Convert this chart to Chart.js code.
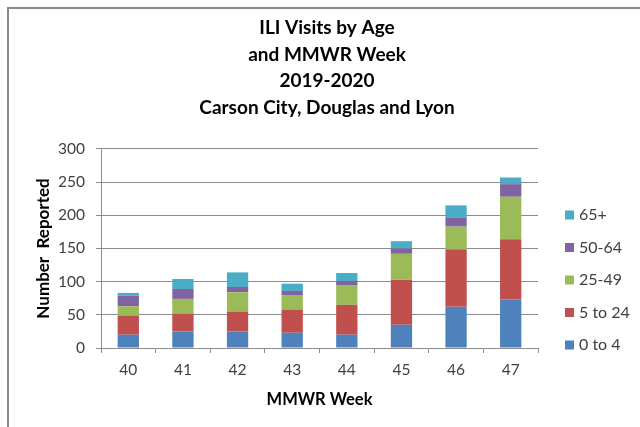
<!DOCTYPE html>
<html lang="en">

<head>
    <meta charset="UTF-8" />
    <title>ILI Visits by Age and MMWR Week</title>
    <script src="https://cdn.jsdelivr.net/npm/chart.js"></script>
    <style>
        html, body { margin: 0; padding: 0; background: #fff; }
        #chart { display: block; }
    </style>
</head>

<body>
    <canvas id="chart" width="640" height="427"></canvas>

    <script>
        // MMWR weeks and visit counts per age group
        const weeks = ['40', '41', '42', '43', '44', '45', '46', '47'];
        const age0to4 = [20, 25, 25, 23, 20, 35, 62, 73];
        const age5to24 = [29, 27, 30, 35, 45, 68, 87, 91];
        const age25to49 = [14, 22, 29, 21, 30, 39, 34, 64];
        const age50to64 = [16, 15, 8, 7, 6, 8, 14, 19];
        const age65plus = [4, 15, 22, 11, 12, 11, 18, 10];

        const FONT = 'Lato, "Open Sans", sans-serif';
        const GRID = '#8c8c8c';
        const TEXT = '#404040';

        // frame lines at the left and top edge, like the Excel chart border
        const framePlugin = {
            id: 'frame',
            beforeDraw(chart) {
                const ctx = chart.ctx;
                ctx.save();
                ctx.fillStyle = '#8a8a8a';
                ctx.fillRect(7, 7, 2, 420);
                ctx.fillRect(7, 7, 633, 2);
                ctx.restore();
            }
        };

        // legend on the right, top item is the last series
        const sideLegend = {
            id: 'sideLegend',
            afterDraw(chart) {
                const ctx = chart.ctx;
                const sets = chart.data.datasets;
                ctx.save();
                ctx.font = '16px ' + FONT;
                ctx.textBaseline = 'middle';
                ctx.textAlign = 'left';
                for (let i = 0; i < sets.length; i++) {
                    const y = 345 - i * 32.5;
                    ctx.fillStyle = sets[i].backgroundColor;
                    ctx.fillRect(565, y - 4.5, 9, 9);
                    ctx.fillStyle = TEXT;
                    ctx.fillText(sets[i].label, 579, y);
                }
                ctx.restore();
            }
        };

        const ctx = document.getElementById('chart').getContext('2d');
        const chart = new Chart(ctx, {
            type: 'bar',
            data: {
                labels: weeks,
                datasets: [
                    { label: '0 to 4', data: age0to4, backgroundColor: '#4f81bd' },
                    { label: '5 to 24', data: age5to24, backgroundColor: '#c0504d' },
                    { label: '25-49', data: age25to49, backgroundColor: '#9bbb59' },
                    { label: '50-64', data: age50to64, backgroundColor: '#8064a2' },
                    { label: '65+', data: age65plus, backgroundColor: '#4bacc6' }
                ]
            },
            options: {
                responsive: false,
                animation: false,
                layout: { padding: { left: 14, right: 0, top: 0, bottom: 0 } },
                datasets: {
                    bar: { categoryPercentage: 1, barPercentage: 0.39 }
                },
                scales: {
                    x: {
                        stacked: true,
                        grid: { drawOnChartArea: false, color: GRID, tickLength: 5 },
                        border: { color: GRID },
                        ticks: { color: TEXT, font: { family: FONT, size: 15.5 }, padding: 8 },
                        title: {
                            display: true, text: 'MMWR Week', color: '#000',
                            font: { family: FONT, size: 16.5, weight: 'bold' },
                            padding: { top: 0, bottom: 17 }
                        },
                        afterFit(s) { s.height = 79; }
                    },
                    y: {
                        stacked: true,
                        min: 0, max: 300,
                        grid: { color: GRID, tickLength: 5 },
                        border: { color: GRID },
                        ticks: { stepSize: 50, color: TEXT, font: { family: FONT, size: 15.5 }, padding: 11 },
                        title: {
                            display: true, text: 'Number  Reported', color: '#000',
                            font: { family: FONT, size: 17, weight: 'bold' },
                            padding: { top: 19, bottom: 0 }
                        },
                        afterFit(s) { s.width = 87; }
                    },
                    // empty axis that only reserves room for the legend
                    side: {
                        position: 'right',
                        display: true,
                        grid: { display: false },
                        border: { display: false },
                        ticks: { display: false },
                        afterFit(s) { s.width = 102; }
                    }
                },
                plugins: {
                    legend: { display: false },
                    tooltip: { enabled: false },
                    title: {
                        display: true,
                        text: ['ILI Visits by Age', 'and MMWR Week', '2019-2020', 'Carson City, Douglas and Lyon'],
                        color: '#000',
                        font: { family: FONT, size: 19, weight: 'bold', lineHeight: 1.405 },
                        padding: { top: 14.6, bottom: 27.6 }
                    }
                }
            },
            plugins: [framePlugin, sideLegend]
        });
    </script>
</body>

</html>
